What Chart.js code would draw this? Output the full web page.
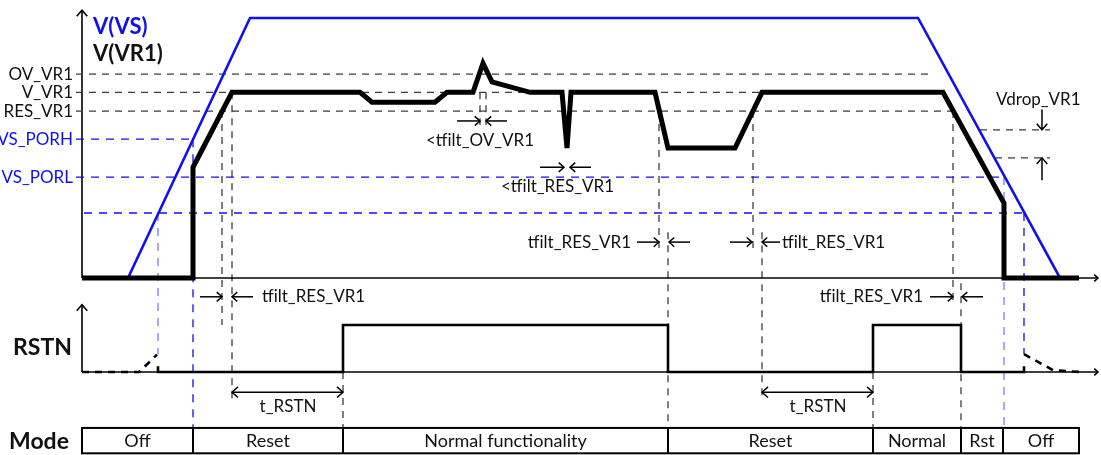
<!DOCTYPE html>
<html>
<head>
<meta charset="utf-8">
<script src="https://cdn.jsdelivr.net/npm/chart.js@4.4.1/dist/chart.umd.min.js"></script>
<style>
  html, body { margin: 0; padding: 0; background: #fff; }
  #wrap { width: 1101px; height: 455px; }
</style>
</head>
<body>
<div id="wrap"><canvas id="chart" width="1101" height="455"></canvas></div>
<script>
// time in arbitrary units, supply/regulator in volts, RSTN as logic level
const vsTime = [0, 46, 168, 836, 978, 996];
const vsVolt = [0, 0, 5, 5, 0, 0];

const vr1Time = [0, 111, 111, 150, 278, 290, 353, 365, 391, 401, 410, 448, 480, 485, 489, 573, 586, 653, 680, 861, 922, 922, 997];
const vr1Volt = [0, 0, 2.13, 3.57, 3.57, 3.38, 3.38, 3.57, 3.57, 4.13, 3.77, 3.57, 3.57, 2.5, 3.57, 3.57, 2.5, 2.5, 3.57, 3.57, 1.44, 0, 0];

const rstnTime = [76, 76, 261, 261, 586, 586, 791, 791, 879, 879, 942, 942];
const rstnLevel = [0.12, 0, 0, 1, 1, 0, 0, 1, 1, 0, 0, 0.12];
const rstnWeakOnTime = [0, 57, 75];
const rstnWeakOnLevel = [0, 0, 0.37];
const rstnWeakOffTime = [942, 971, 998];
const rstnWeakOffLevel = [0.38, 0.04, 0];

// threshold levels
const levelNames = ['OV_VR1', 'V_VR1', 'RES_VR1', 'VS_PORH', 'VS_PORL', ''];
const levelVolts = [3.92, 3.57, 3.21, 2.67, 1.94, 1.25];
const levelStart = [-6, -6, -6, -6, -6, 2];
const levelEnd = [848, 861, 873, 113, 922, 942];
const levelBlue = [false, false, false, true, true, true];

const dropVolts = [2.85, 2.31];
const dropStart = [898, 913];
const dropEnd = [968, 968];

// mode bar
const modeNames = ['Off', 'Reset', 'Normal functionality', 'Reset', 'Normal', 'Rst', 'Off'];
const modeEdges = [0, 111, 261, 586, 791, 879, 921, 997];

// vertical timing markers
const markTime = [76, 111, 140, 150, 261, 398, 404, 577, 586, 671, 680, 791, 871, 879, 922, 942];
const markFrom = [['yV', 1.25], ['yV', 2.67], ['yV', 3.21], ['yV', 3.57], ['yR', 0], ['yV', 3.57], ['yV', 3.57], ['yV', 3.21], ['yV', 0.88], ['yV', 3.21], ['yV', 0.88], ['yR', 0], ['yV', 3.21], ['yR', 1.89], ['yV', 1.94], ['yV', 1.25]];
const markTo = [['yR', 0.37], ['yR', -1.19], ['yR', 1.0], ['yR', -0.6], ['yR', -1.19], ['yV', 2.94], ['yV', 2.94], ['yV', 0.5], ['yR', -1.19], ['yV', 0.5], ['yR', -0.6], ['yR', -1.19], ['yR', 1.47], ['yR', -1.19], ['yR', -1.19], ['yR', 0.38]];
const markColor = ['light', 'blue', 'black', 'black', 'black', 'black', 'black', 'black', 'black', 'black', 'black', 'black', 'black', 'black', 'light', 'blue'];

// filter-time arrows: [axis, level, from, to]
const filtArrows = [
  ['yV', 3.02, 375, 398], ['yV', 3.02, 425, 404],
  ['yV', 2.13, 458, 482], ['yV', 2.13, 509, 488],
  ['yV', 0.69, 555, 577], ['yV', 0.69, 608, 587],
  ['yV', 0.69, 648, 670], ['yV', 0.69, 698, 680],
  ['yR', 1.6, 118, 140], ['yR', 1.6, 171, 150],
  ['yR', 1.6, 848, 871], ['yR', 1.6, 901, 880]
];
const rstnSpans = [[150, 261], [680, 791]];

// text labels: [text, t, axis, value, align]  (ZWNJ keeps "fi" from ligating)
const FILT = 'tf\u200Cilt';
const notes = [
  ['<' + FILT + '_OV_VR1', 398, 'yV', 2.65, 'center'],
  ['<' + FILT + '_RES_VR1', 419, 'yV', 1.75, 'left'],
  [FILT + '_RES_VR1', 549, 'yV', 0.69, 'right'],
  [FILT + '_RES_VR1', 700, 'yV', 0.69, 'left'],
  [FILT + '_RES_VR1', 180, 'yR', 1.6, 'left'],
  [FILT + '_RES_VR1', 841, 'yR', 1.6, 'right'],
  ['Vdrop_VR1', 914, 'yV', 3.44, 'left'],
  ['t_RSTN', 206, 'yR', -0.745, 'center'],
  ['t_RSTN', 736, 'yR', -0.745, 'center']
];

const BLUE = '#0f0ff2';
const LIGHT = '#7a7aff';
const DASH_GREY = '#3c3c3c';
const FONT = 'Lato, "Open Sans", sans-serif';
const MODE_TOP = -1.19;
const MODE_BOTTOM = -1.73;

function series(xs, ys) {
  return xs.map((t, i) => ({ x: t, y: ys[i] }));
}

function line(ctx, x1, y1, x2, y2) {
  ctx.beginPath();
  ctx.moveTo(x1, y1);
  ctx.lineTo(x2, y2);
  ctx.stroke();
}

function head(ctx, x, y, ang, size) {
  const a = 0.72;
  ctx.beginPath();
  ctx.moveTo(x - size * Math.cos(ang - a), y - size * Math.sin(ang - a));
  ctx.lineTo(x, y);
  ctx.lineTo(x - size * Math.cos(ang + a), y - size * Math.sin(ang + a));
  ctx.stroke();
}

function arrow(ctx, x1, y1, x2, y2, size) {
  line(ctx, x1, y1, x2, y2);
  head(ctx, x2, y2, Math.atan2(y2 - y1, x2 - x1), size);
}

const levelDatasets = levelVolts.map((v, i) => ({
  data: series([levelStart[i], levelEnd[i]], [v, v]),
  yAxisID: 'yV',
  borderColor: levelBlue[i] ? BLUE : DASH_GREY,
  borderWidth: 1.3,
  borderDash: levelBlue[i] ? [8, 7] : [7, 6],
  order: 10
}));
const dropDatasets = dropVolts.map((v, i) => ({
  data: series([dropStart[i], dropEnd[i]], [v, v]),
  yAxisID: 'yV',
  borderColor: DASH_GREY,
  borderWidth: 1.3,
  borderDash: [7, 6],
  order: 10
}));

const diagram = {
  id: 'diagram',
  beforeDatasetsDraw(chart) {
    const ctx = chart.ctx;
    const X = t => chart.scales.x.getPixelForValue(t);
    const Y = (axis, v) => chart.scales[axis].getPixelForValue(v);
    ctx.save();
    ctx.lineWidth = 1.3;
    markTime.forEach((t, i) => {
      const c = markColor[i];
      ctx.strokeStyle = c === 'black' ? DASH_GREY : (c === 'blue' ? BLUE : LIGHT);
      ctx.setLineDash(c === 'black' ? [7, 6] : [8, 7]);
      const x = X(t);
      line(ctx, x, Y(markFrom[i][0], markFrom[i][1]), x, Y(markTo[i][0], markTo[i][1]));
    });
    ctx.setLineDash([]);

    // axes
    ctx.strokeStyle = '#000';
    ctx.lineWidth = 1.6;
    const x0 = X(0), xe = X(1016);
    [['yV', 5.15], ['yR', 1.43]].forEach(([axis, top]) => {
      const yb = Y(axis, 0), yt = Y(axis, top);
      line(ctx, x0, yb, x0, yt);
      head(ctx, x0, yt, -Math.PI / 2, 8);
      line(ctx, x0, yb, xe, yb);
      head(ctx, xe, yb, 0, 5);
    });
    ctx.restore();
  },
  afterDatasetsDraw(chart) {
    const ctx = chart.ctx;
    const X = t => chart.scales.x.getPixelForValue(t);
    const Y = (axis, v) => chart.scales[axis].getPixelForValue(v);
    ctx.save();
    ctx.textBaseline = 'middle';
    ctx.strokeStyle = '#000';
    ctx.lineWidth = 1.5;

    filtArrows.forEach(([axis, v, a, b]) => {
      const y = Y(axis, v);
      arrow(ctx, X(a), y, X(b), y, 7);
    });
    rstnSpans.forEach(([a, b]) => {
      const y = Y('yR', -0.43);
      arrow(ctx, X(a), y, X(b), y, 8);
      head(ctx, X(a), y, Math.PI, 8);
    });
    // Vdrop arrows
    arrow(ctx, X(960), Y('yV', 3.24), X(960), Y('yV', 2.85), 8);
    arrow(ctx, X(960), Y('yV', 1.88), X(960), Y('yV', 2.31), 8);

    // threshold labels
    ctx.font = '17px ' + FONT;
    ctx.textAlign = 'right';
    levelNames.forEach((name, i) => {
      if (!name) return;
      ctx.fillStyle = levelBlue[i] ? BLUE : '#111';
      ctx.fillText(name, X(-9), Y('yV', levelVolts[i]));
    });
    ctx.fillStyle = '#111';
    notes.forEach(([txt, t, axis, v, align]) => {
      ctx.textAlign = align;
      ctx.fillText(txt, X(t), Y(axis, v));
    });

    // trace names
    ctx.font = 'bold 22px ' + FONT;
    ctx.textAlign = 'left';
    ctx.fillStyle = BLUE;
    ctx.fillText('V(VS)', X(11), Y('yV', 4.83));
    ctx.fillStyle = '#111';
    ctx.fillText('V(VR1)', X(11), Y('yV', 4.31));
    ctx.font = 'bold 23px ' + FONT;
    ctx.textAlign = 'right';
    ctx.fillText('RSTN', X(-10), Y('yR', 0.51));

    // mode bar
    const yt = Y('yR', MODE_TOP), yb = Y('yR', MODE_BOTTOM);
    ctx.textAlign = 'left';
    ctx.fillText('Mode', X(-73), (yt + yb) / 2 + 1);
    ctx.lineWidth = 2;
    ctx.strokeRect(X(modeEdges[0]), yt, X(modeEdges[modeEdges.length - 1]) - X(modeEdges[0]), yb - yt);
    modeEdges.slice(1, -1).forEach(t => line(ctx, X(t), yt, X(t), yb));
    ctx.font = '18px ' + FONT;
    ctx.textAlign = 'center';
    modeNames.forEach((name, i) => {
      ctx.fillText(name, (X(modeEdges[i]) + X(modeEdges[i + 1])) / 2, (yt + yb) / 2 + 1);
    });
    ctx.restore();
  }
};

new Chart(document.getElementById('chart'), {
  type: 'scatter',
  data: {
    datasets: [
      { label: 'V(VR1)', data: series(vr1Time, vr1Volt), yAxisID: 'yV', borderColor: '#000', borderWidth: 5, order: 1 },
      { label: 'V(VS)', data: series(vsTime, vsVolt), yAxisID: 'yV', borderColor: BLUE, borderWidth: 2.6, order: 2 },
      { label: 'RSTN', data: series(rstnTime, rstnLevel), yAxisID: 'yR', borderColor: '#000', borderWidth: 2.6, order: 3 },
      { label: 'RSTN weak on', data: series(rstnWeakOnTime, rstnWeakOnLevel), yAxisID: 'yR', borderColor: '#000', borderWidth: 2.6, borderDash: [7, 6], order: 3 },
      { label: 'RSTN weak off', data: series(rstnWeakOffTime, rstnWeakOffLevel), yAxisID: 'yR', borderColor: '#000', borderWidth: 2.6, borderDash: [7, 6], order: 3 },
      ...levelDatasets,
      ...dropDatasets
    ].map(d => Object.assign({ showLine: true, pointRadius: 0, pointHoverRadius: 0, fill: false, clip: false }, d))
  },
  options: {
    responsive: false,
    devicePixelRatio: 1,
    animation: false,
    layout: { padding: 0 },
    plugins: { legend: { display: false }, tooltip: { enabled: false } },
    scales: {
      x: { type: 'linear', display: false, min: -82, max: 1019 },
      yV: { type: 'linear', display: false, min: -3.404, max: 5.346 },
      yR: { type: 'linear', display: false, min: -1.766, max: 7.915 }
    }
  },
  plugins: [diagram]
});
</script>
</body>
</html>
